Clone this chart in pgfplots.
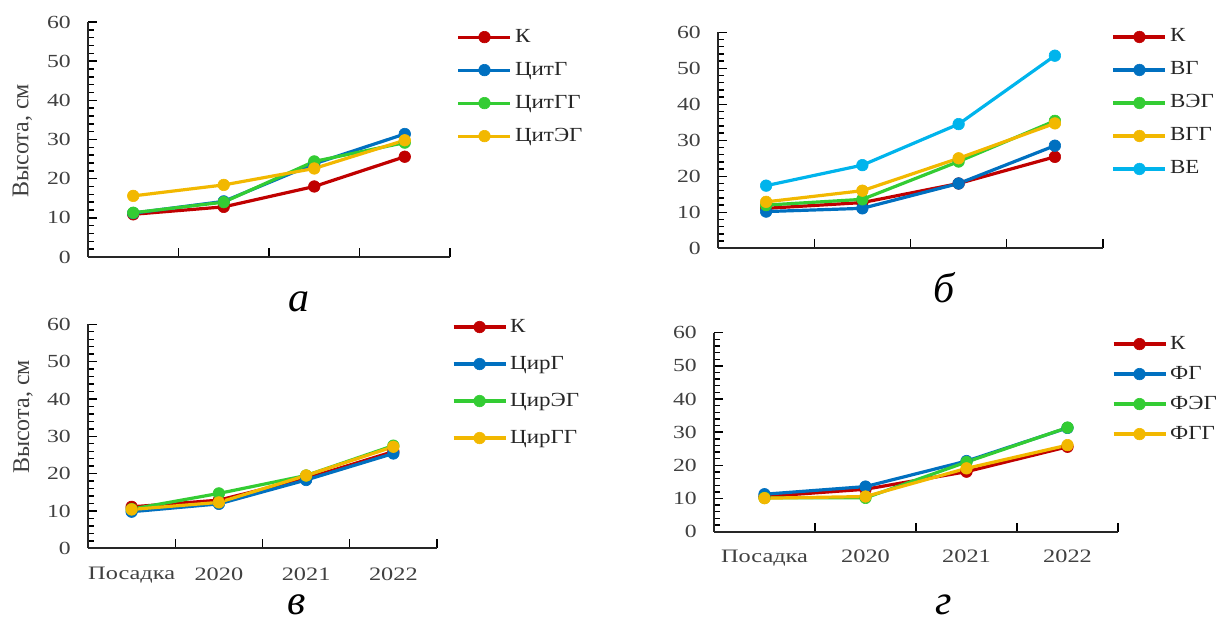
\documentclass[border=0pt]{standalone}
\usepackage{fontspec}
\setmainfont{Liberation Serif}
\usepackage{graphicx}
\usepackage{pgfplots}
\pgfplotsset{compat=1.18}
\definecolor{cK}{HTML}{C00000}
\definecolor{cB}{HTML}{0070C0}
\definecolor{cG}{HTML}{33CC33}
\definecolor{cY}{HTML}{F2B800}
\definecolor{cC}{HTML}{00B4EC}
\definecolor{tk}{HTML}{404040}
\newcommand\tx[1]{\scalebox{1.28}[1]{#1}}
\newcommand\lx[1]{\scalebox{1.15}[1]{#1}}
\pgfplotsset{
 panel/.style={
   scale only axis, anchor=south west,
   axis lines*=left, axis line style={line width=1.8pt, black!85},
   xmin=-0.5, xmax=3.5, ymin=0, ymax=60,
   xtick={0.5,1.5,2.5,3.5}, xticklabels={},
   ytick={0,10,...,60}, yticklabels={\tx{0},\tx{10},\tx{20},\tx{30},\tx{40},\tx{50},\tx{60}},
   minor y tick num=4,
   tick align=inside, major tick length=9pt, minor tick length=6pt,
   every tick/.style={black, line width=1.4pt},
   yticklabel style={font=\fontsize{18.5}{20}\selectfont, text=tk, inner sep=0pt, xshift=-17pt, anchor=east},
   clip=false,
   legend cell align=left,
   legend style={draw=none, fill=none, inner sep=0pt, outer sep=0pt, anchor=north west,
     font=\fontsize{20}{22}\selectfont, text=black!85,
     nodes={inner sep=0pt, text height=14pt, text depth=4pt}, column sep=3pt},
   legend image code/.code={\draw[mark repeat=2,mark phase=2] plot coordinates {(0pt,0pt) (26pt,0pt) (52pt,0pt)};},
   ylabel style={font=\fontsize{24}{26}\selectfont, text=tk, anchor=center},
 },
 ser/.style={color=#1, line width=3.2pt, mark=*, mark size=5.8pt, mark options={solid, fill=#1, draw=#1, line width=0.6pt}},
 cats/.style={extra x ticks={0,1,2,3}, extra x tick labels={\tx{Посадка},\tx{2020},\tx{2021},\tx{2022}},
   extra x tick style={major tick length=0pt, xticklabel style={font=\fontsize{19}{20}\selectfont, text=tk, inner sep=0pt, anchor=north, yshift=-#1}}},
}
\begin{document}
\begin{tikzpicture}
\useasboundingbox (0,0) rectangle (1217pt,623pt);
% panel a
\begin{axis}[panel, at={(88pt,366pt)}, width=362pt, height=235pt,
  ylabel={Высота, см}, ylabel style={at={(axis description cs:-0.181,0.494)}},
  legend style={at={(1.019,0.974)}, row sep=15pt}]
\addplot[ser=cK] coordinates {(0,10.9) (1,12.8) (2,18.0) (3,25.6)};
\addlegendentry{\lx{К}}
\addplot[ser=cB] coordinates {(0,11.2) (1,14.2) (2,23.8) (3,31.4)};
\addlegendentry{\lx{ЦитГ}}
\addplot[ser=cG] coordinates {(0,11.3) (1,14.0) (2,24.4) (3,29.2)};
\addlegendentry{\lx{ЦитГГ}}
\addplot[ser=cY] coordinates {(0,15.6) (1,18.4) (2,22.6) (3,29.8)};
\addlegendentry{\lx{ЦитЭГ}}
\end{axis}
% panel b
\begin{axis}[panel, at={(718pt,374.7pt)}, width=385pt, height=216pt,
  legend style={at={(1.023,1.020)}, row sep=15pt}]
\addplot[ser=cK] coordinates {(0,11.1) (1,12.7) (2,18.0) (3,25.4)};
\addlegendentry{\lx{К}}
\addplot[ser=cB] coordinates {(0,10.2) (1,11.1) (2,18.0) (3,28.5)};
\addlegendentry{\lx{ВГ}}
\addplot[ser=cG] coordinates {(0,12.0) (1,13.6) (2,24.1) (3,35.4)};
\addlegendentry{\lx{ВЭГ}}
\addplot[ser=cY] coordinates {(0,12.9) (1,16.0) (2,25.0) (3,34.7)};
\addlegendentry{\lx{ВГГ}}
\addplot[ser=cC] coordinates {(0,17.4) (1,23.1) (2,34.5) (3,53.5)};
\addlegendentry{\lx{ВЕ}}
\end{axis}
% panel v
\begin{axis}[panel, cats=19pt, at={(88pt,74.7pt)}, width=349pt, height=224pt,
  ylabel={Высота, см}, ylabel style={at={(axis description cs:-0.186,0.586)}},
  legend style={at={(1.043,1.028)}, row sep=19pt}]
\addplot[ser=cK] coordinates {(0,11.1) (1,12.9) (2,18.7) (3,25.9)};
\addlegendentry{\lx{К}}
\addplot[ser=cB] coordinates {(0,9.8) (1,11.9) (2,18.3) (3,25.4)};
\addlegendentry{\lx{ЦирГ}}
\addplot[ser=cG] coordinates {(0,10.5) (1,14.7) (2,19.5) (3,27.5)};
\addlegendentry{\lx{ЦирЭГ}}
\addplot[ser=cY] coordinates {(0,10.4) (1,12.3) (2,19.5) (3,27.2)};
\addlegendentry{\lx{ЦирГГ}}
\end{axis}
% panel g
\begin{axis}[panel, cats=18pt, at={(714pt,91.3pt)}, width=404pt, height=199pt,
  legend style={at={(0.985,0.988)}, row sep=12pt}]
\addplot[ser=cK] coordinates {(0,10.6) (1,12.8) (2,18.1) (3,25.6)};
\addlegendentry{\lx{К}}
\addplot[ser=cB] coordinates {(0,11.3) (1,13.6) (2,21.3) (3,31.3)};
\addlegendentry{\lx{ФГ}}
\addplot[ser=cG] coordinates {(0,10.2) (1,10.2) (2,21.0) (3,31.4)};
\addlegendentry{\lx{ФЭГ}}
\addplot[ser=cY] coordinates {(0,10.1) (1,10.6) (2,19.1) (3,26.1)};
\addlegendentry{\lx{ФГГ}}
\end{axis}
\node[anchor=base, font=\fontsize{42}{42}\selectfont\itshape] at (299pt,311pt) {а};
\node[anchor=base, font=\fontsize{42}{42}\selectfont\itshape] at (944pt,320pt) {б};
\node[anchor=base, font=\fontsize{42}{42}\selectfont\itshape] at (297pt,8pt) {в};
\node[anchor=base, font=\fontsize{42}{42}\selectfont\itshape] at (944pt,8pt) {г};
\end{tikzpicture}
\end{document}
